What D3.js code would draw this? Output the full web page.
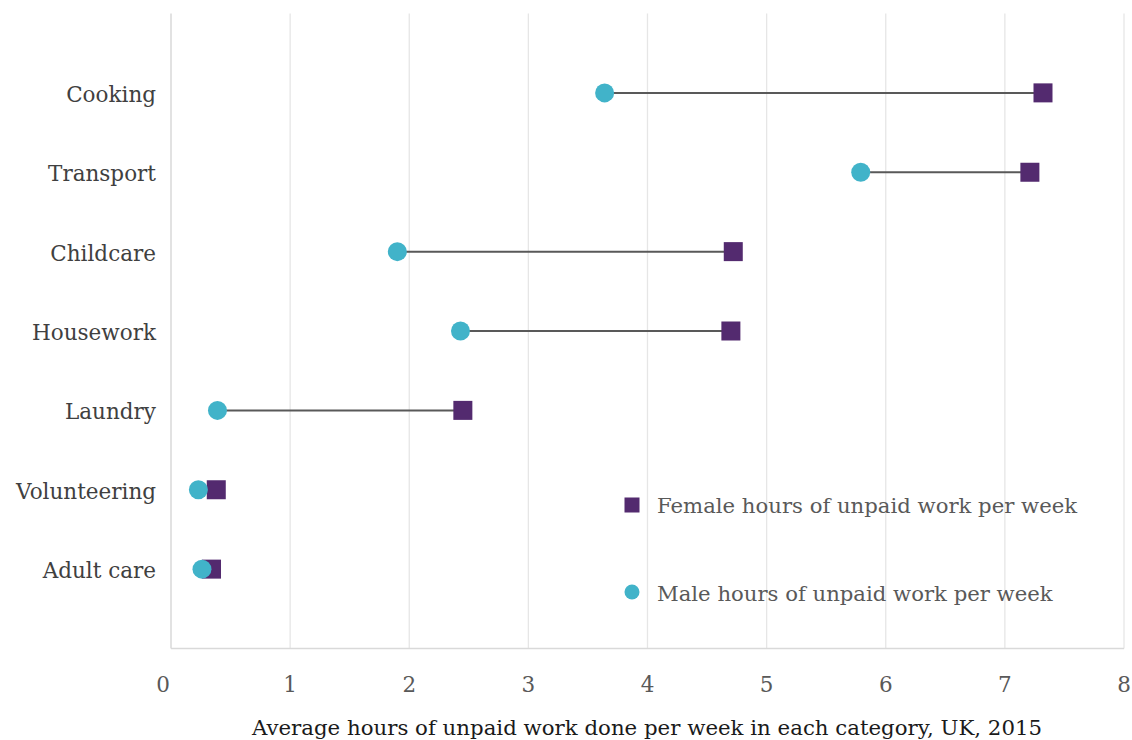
<!DOCTYPE html>
<html><head><meta charset="utf-8">
<script src="https://cdn.jsdelivr.net/npm/d3@7"></script>
<style>body{margin:0;background:#fff}</style>
</head><body>
<svg id="c" width="1132" height="740"></svg>
<script>
const categories = ["Cooking","Transport","Childcare","Housework","Laundry","Volunteering","Adult care"];
const femaleHours = [7.32, 7.21, 4.72, 4.70, 2.45, 0.38, 0.34];
const maleHours   = [3.64, 5.79, 1.90, 2.43, 0.39, 0.23, 0.26];
const xTicks = [0,1,2,3,4,5,6,7,8];
const legendLabels = ["Female hours of unpaid work per week","Male hours of unpaid work per week"];
const axisTitle = "Average hours of unpaid work done per week in each category, UK, 2015";

const FONT = "'DejaVu Serif', serif";
const svg = d3.select("#c");
const x = d3.scaleLinear().domain([0,8]).range([171,1124]);
const y = d3.scaleLinear().domain([0,8]).range([648.5,13.5]);
const yPos = i => y(categories.length - i);

// gridlines
svg.append("g").selectAll("line").data(xTicks.slice(1)).join("line")
  .attr("x1", d=>x(d)).attr("x2", d=>x(d)).attr("y1", y(8)).attr("y2", y(0))
  .attr("stroke","#e6e6e6").attr("stroke-width",1.3);
// axes lines
svg.append("line").attr("x1",x(0)).attr("x2",x(0)).attr("y1",y(8)).attr("y2",y(0))
  .attr("stroke","#d9d9d9").attr("stroke-width",1.5);
svg.append("line").attr("x1",x(0)).attr("x2",x(8)).attr("y1",y(0)).attr("y2",y(0))
  .attr("stroke","#d9d9d9").attr("stroke-width",1.5);

// tick labels
svg.append("g").selectAll("text").data(xTicks).join("text")
  .attr("x", d=> d===0 ? x(d)-8 : x(d)).attr("y", 692)
  .attr("text-anchor","middle").attr("font-family",FONT).attr("font-size",21.5)
  .attr("fill","#595959").text(d=>d);

// category labels
svg.append("g").selectAll("text").data(categories).join("text")
  .attr("x",156).attr("y",(d,i)=>yPos(i)+9)
  .attr("text-anchor","end").attr("font-family",FONT).attr("font-size",21.5)
  .attr("fill","#404040").text(d=>d);

// connecting lines
svg.append("g").selectAll("line").data(categories).join("line")
  .attr("x1",(d,i)=>x(maleHours[i])).attr("x2",(d,i)=>x(femaleHours[i]))
  .attr("y1",(d,i)=>yPos(i)).attr("y2",(d,i)=>yPos(i))
  .attr("stroke","#595959").attr("stroke-width",2);

// female squares
const s = 19;
svg.append("g").selectAll("rect").data(categories).join("rect")
  .attr("x",(d,i)=>x(femaleHours[i])-s/2).attr("y",(d,i)=>yPos(i)-s/2)
  .attr("width",s).attr("height",s).attr("fill","#532a6f");
// male circles
svg.append("g").selectAll("circle").data(categories).join("circle")
  .attr("cx",(d,i)=>x(maleHours[i])).attr("cy",(d,i)=>yPos(i))
  .attr("r",9.5).attr("fill","#41b3c9");

// legend
const lg = svg.append("g");
lg.append("rect").attr("x",624.5).attr("y",497.5).attr("width",15).attr("height",15).attr("fill","#532a6f");
lg.append("circle").attr("cx",632).attr("cy",592).attr("r",7.5).attr("fill","#41b3c9");
lg.selectAll("text").data(legendLabels).join("text")
  .attr("x",657).attr("y",(d,i)=> i===0 ? 513 : 601)
  .attr("font-family",FONT).attr("font-size",21.2).attr("fill","#595959").text(d=>d);

// axis title
svg.append("text").attr("x",647).attr("y",735).attr("text-anchor","middle")
  .attr("font-family",FONT).attr("font-size",21.3).attr("fill","#1a1a1a").text(axisTitle);
</script>
</body></html>
